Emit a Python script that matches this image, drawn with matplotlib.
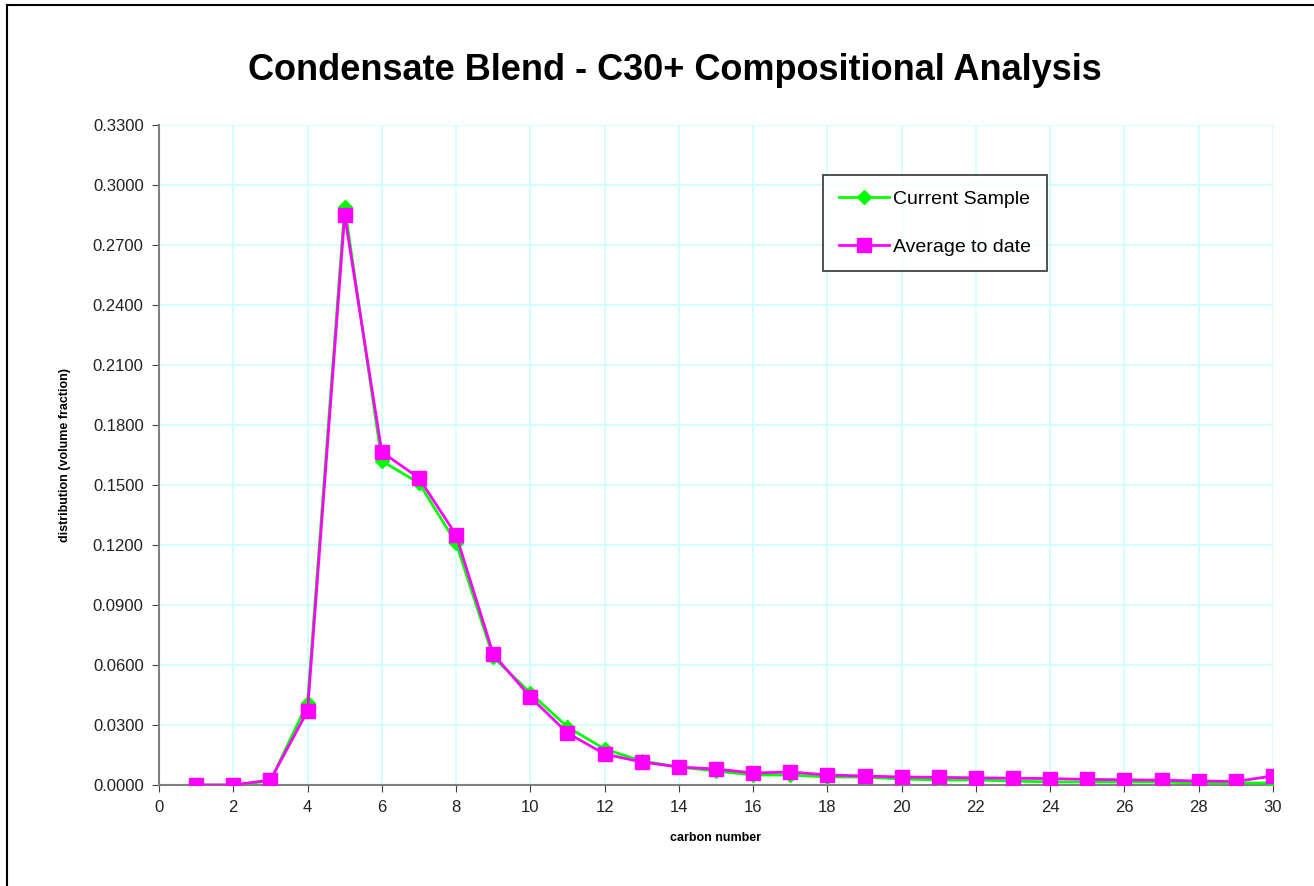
import numpy as np
import matplotlib
matplotlib.use('Agg')
import matplotlib.pyplot as plt
from matplotlib.lines import Line2D

plt.rcParams['font.family'] = ['Liberation Sans', 'DejaVu Sans']

# carbon number 1..30
carbon = list(range(1, 31))

current_sample = [0.0000, 0.0000, 0.0020, 0.0410, 0.2890, 0.1620, 0.1510, 0.1210, 0.0640, 0.0460,
                  0.0290, 0.0180, 0.0120, 0.0090, 0.0070, 0.0050, 0.0050, 0.0040, 0.0040, 0.0030,
                  0.0025, 0.0025, 0.0020, 0.0015, 0.0015, 0.0015, 0.0015, 0.0010, 0.0010, 0.0010]
average_to_date = [0.0000, 0.0000, 0.0025, 0.0370, 0.2850, 0.1665, 0.1535, 0.1250, 0.0655, 0.0440,
                   0.0260, 0.0155, 0.0115, 0.0090, 0.0080, 0.0060, 0.0065, 0.0050, 0.0045, 0.0040,
                   0.0038, 0.0036, 0.0034, 0.0032, 0.0028, 0.0026, 0.0024, 0.0020, 0.0018, 0.0045]

yticks = np.arange(0, 0.3301, 0.03)
xticks = list(range(0, 31, 2))

fig = plt.figure(figsize=(13.14, 8.86), dpi=100)
ax = fig.add_axes([159/1314, 1 - 785/886, (1273 - 159)/1314, (785 - 125)/886])

ax.plot(carbon, current_sample, color='#00ff00', lw=2, marker='D', markersize=7,
        label='Current Sample', zorder=3)
ax.plot(carbon, average_to_date, color='#ff00ff', lw=2, marker='s', markersize=10,
        label='Average to date', zorder=4)

ax.set_xlim(0, 30)
ax.set_ylim(0, 0.33)
ax.set_xticks(xticks)
ax.set_yticks(yticks)
ax.set_yticklabels(['%.4f' % v for v in yticks])
ax.grid(True, color='#ccffff', lw=1.2)
ax.set_axisbelow(True)
for s in ['top', 'right']:
    ax.spines[s].set_visible(False)
for s in ['left', 'bottom']:
    ax.spines[s].set_color('#808080')
    ax.spines[s].set_linewidth(1.5)
ax.tick_params(direction='out', length=5, color='#404040', labelsize=12, labelcolor='#222222', pad=6)

ax.set_xlabel('carbon number', fontsize=9, fontweight='bold', labelpad=12)
ax.set_ylabel('distribution (volume fraction)', fontsize=9, fontweight='bold', labelpad=16)
fig.text(675/1314, 1 - 71/886, 'Condensate Blend - C30+ Compositional Analysis',
         ha='center', va='center', fontsize=26, fontweight='bold')

leg = ax.legend(loc='upper left', bbox_to_anchor=((823 - 159)/1114, (785 - 175)/660),
                borderaxespad=0, fontsize=14, frameon=True, fancybox=False, borderpad=0.8,
                handlelength=2.6, labelspacing=1.55, handletextpad=0.2)
leg.get_frame().set_edgecolor('black')
leg.get_frame().set_linewidth(1.2)

# outer chart border (top and left visible)
fig.add_artist(Line2D([7/1314, 7/1314], [0, 1 - 5/886], color='black', lw=1.5,
                      transform=fig.transFigure))
fig.add_artist(Line2D([7/1314, 1], [1 - 5/886, 1 - 5/886], color='black', lw=1.5,
                      transform=fig.transFigure))

fig.savefig('out.png', dpi=100)
